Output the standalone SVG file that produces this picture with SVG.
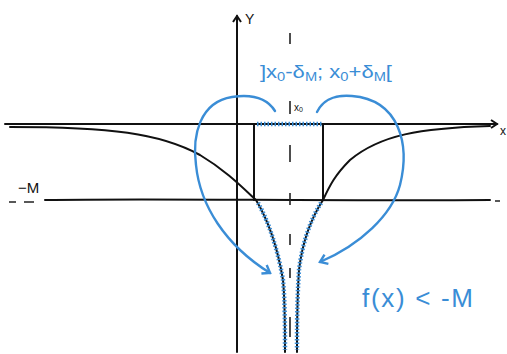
<svg xmlns="http://www.w3.org/2000/svg" width="507" height="354" viewBox="0 0 507 354">
<style>
.k{fill:none;stroke:#111;stroke-width:2;stroke-linecap:round;stroke-linejoin:round}
.b{fill:none;stroke:#3a8dd6;stroke-width:2.4;stroke-linecap:round;stroke-linejoin:round}
.bh{fill:none;stroke:#3a8dd6;stroke-width:4.5;stroke-dasharray:1.5 2}
.d{fill:none;stroke:#222;stroke-width:1.6}
.t{font-family:"Liberation Sans",Arial,sans-serif;fill:#111}
.bt{font-family:"Liberation Sans",Arial,sans-serif;fill:#3a8dd6}
</style>
<defs>
<marker id="ak" markerWidth="10" markerHeight="10" refX="7" refY="5" orient="auto" markerUnits="userSpaceOnUse"><path d="M1,1 L7,5 L1,9" fill="none" stroke="#111" stroke-width="2"/></marker>
<marker id="ab" markerWidth="12" markerHeight="12" refX="8" refY="6" orient="auto" markerUnits="userSpaceOnUse"><path d="M1,1 L8,6 L1,11" fill="none" stroke="#3a8dd6" stroke-width="2.4"/></marker>
</defs>
<rect width="507" height="354" fill="#fff"/>
<g id="axes">
<path class="k" d="M5,124 L497,124" marker-end="url(#ak)"/>
<path class="k" d="M237,352 L237,16" marker-end="url(#ak)"/>
<text class="t" x="245" y="24" font-size="14">Y</text>
<text class="t" x="500" y="135" font-size="12">x</text>
</g>
<g id="minusM">
<path class="k" d="M45,200 C150,198 300,201 490,200"/>
<path class="d" d="M9,202 L16,202 M24,202 L34,202 M495,201 L500,201"/>
<text class="t" x="18" y="193" font-size="15">−M</text>
</g>
<g id="asymptote">
<path class="d" d="M290,33 L290,44 M290,145 L290,162 M290,193 L290,205 M290,234 L290,245 M290,268 L290,278 M290,317 L290,337"/>
<path class="d" d="M290,101 L290,114"/>
<text class="t" x="294" y="111" font-size="10">x<tspan font-size="7" dy="1">0</tspan></text>
</g>
<g id="verticals">
<path class="k" d="M254,125 L254,200 M323,125 L323,200"/>
</g>
<g id="interval">
<path class="bh" d="M257,124 L323,124"/>
</g>
<g id="curves">
<path class="k" d="M10,127 C110,127 160,133 200,155 C225,170 240,185 256,200 C268,220 278,250 283,280 C285,300 285,330 285,352"/>
<path class="k" d="M490,126 C420,128 380,135 350,160 C335,175 330,185 323,200 C310,220 302,245 299,270 C297,300 297,330 297,352"/>
<path class="bh" d="M258,203 C268,220 278,250 283,280 C285,300 285,330 285,350"/>
<path class="bh" d="M321,203 C310,220 302,245 299,270 C297,300 297,330 297,350"/>
</g>
<g id="connectors">
<path class="b" d="M275,111 C265,95 245,95 232,97 C200,102 192,135 196,165 C200,205 225,245 270,273" marker-end="url(#ab)"/>
<path class="b" d="M317,112 C325,96 340,95 352,96 C400,100 410,145 400,185 C392,215 360,245 320,262" marker-end="url(#ab)"/>
</g>
<g id="labels">
<text class="bt" x="260" y="78" font-size="18" textLength="132" lengthAdjust="spacingAndGlyphs">]x<tspan font-size="12" dy="3">0</tspan><tspan dy="-3">-δ</tspan><tspan font-size="12" dy="3">M</tspan><tspan dy="-3">; x</tspan><tspan font-size="12" dy="3">0</tspan><tspan dy="-3">+δ</tspan><tspan font-size="12" dy="3">M</tspan><tspan dy="-3">[</tspan></text>
<text class="bt" x="362" y="307" font-size="26" textLength="111" lengthAdjust="spacing">f(x) &lt; -M</text>
</g>
</svg>
